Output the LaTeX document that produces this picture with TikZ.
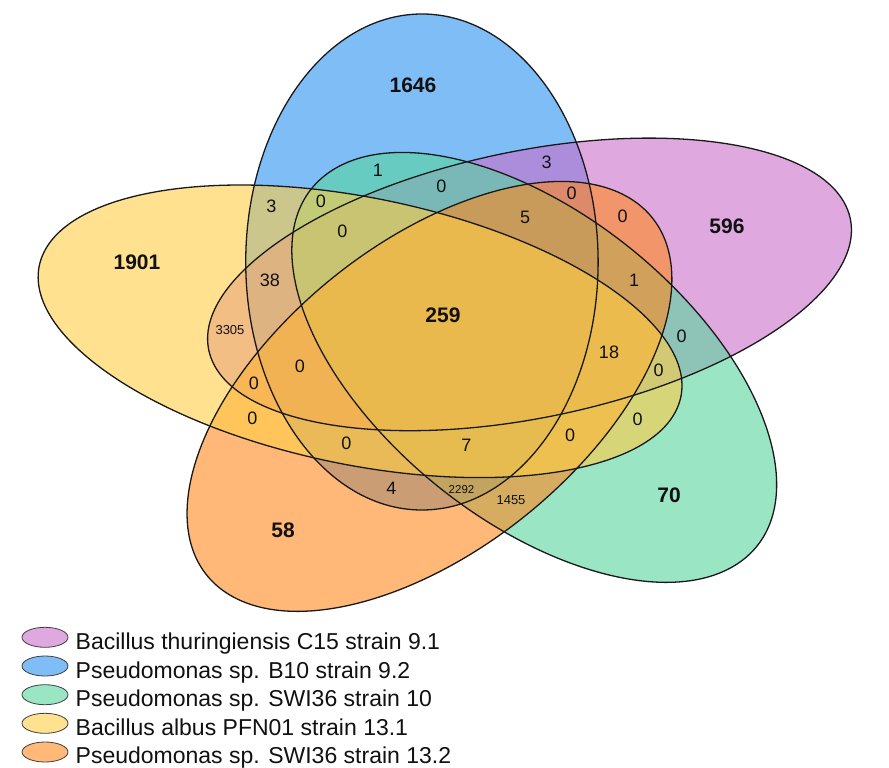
\documentclass[tikz,border=0pt]{standalone}
\usepackage{fontspec}
\setmainfont{Liberation Sans}
\usetikzlibrary{shapes.geometric}
\definecolor{cPink}{RGB}{203,110,203}
\definecolor{cBlue}{RGB}{43,145,243}
\definecolor{cGreen}{RGB}{88,213,157}
\definecolor{cYellow}{RGB}{255,205,70}
\definecolor{cOrange}{RGB}{255,137,30}
\definecolor{txt}{RGB}{17,17,17}
\tikzset{
  venn/.style={fill opacity=0.6},
  vline/.style={draw=black!90, line width=1.3pt},
  big/.style={inner sep=0, text=txt, font=\fontsize{21}{22}\selectfont\bfseries},
  mid/.style={inner sep=0, text=txt, font=\fontsize{18}{18}\selectfont},
  small/.style={inner sep=0, text=txt, font=\fontsize{13}{13}\selectfont},
  tiny/.style={inner sep=0, text=txt, font=\fontsize{11.5}{12}\selectfont},
  legmark/.style={ellipse, draw=black!75, line width=0.8pt, fill opacity=0.6, minimum width=46pt, minimum height=20pt, inner sep=0},
  legtext/.style={anchor=base west, inner sep=0, text=txt, font=\fontsize{23}{23}\selectfont},
}
\begin{document}
\begin{tikzpicture}[x=1pt,y=-1pt]
\fill[white] (0,0) rectangle (889,768);
\useasboundingbox (0,0) rectangle (889,768);
\begin{scope}[xscale=1.345]
  % fills
  \fill[cBlue, venn] (313.7,262.0) ellipse (131 and 248);
  \fill[cPink, venn, rotate around={18:(393.7,284.4)}] (393.7,284.4) ellipse (248 and 131);
  \fill[cGreen, venn, rotate around={-54:(397.2,367.4)}] (397.2,367.4) ellipse (248 and 131);
  \fill[cOrange, venn, rotate around={54:(319.3,396.4)}] (319.3,396.4) ellipse (248 and 131);
  \fill[cYellow, venn, rotate around={162:(267.7,331.3)}] (267.7,331.3) ellipse (248 and 131);
  % outlines
  \draw[vline] (313.7,262.0) ellipse (131 and 248);
  \draw[vline, rotate around={18:(393.7,284.4)}] (393.7,284.4) ellipse (248 and 131);
  \draw[vline, rotate around={-54:(397.2,367.4)}] (397.2,367.4) ellipse (248 and 131);
  \draw[vline, rotate around={54:(319.3,396.4)}] (319.3,396.4) ellipse (248 and 131);
  \draw[vline, rotate around={162:(267.7,331.3)}] (267.7,331.3) ellipse (248 and 131);
\end{scope}
% single-set counts
\node[big] (nB) at (413,85) {1646};
\node[big] (nP) at (727,226) {596};
\node[big] (nY) at (137,262) {1901};
\node[big] (nG) at (669,495) {70};
\node[big] (nO) at (283,530) {58};
\node[big] (nAll) at (443,315) {259};
% intersections
\node[mid] (a1) at (378,170) {1};
\node[mid] (a2) at (546.5,162) {3};
\node[mid] (a3) at (441.5,186.5) {0};
\node[mid] (a4) at (571.5,193) {0};
\node[mid] (a5) at (622.5,216.5) {0};
\node[mid] (a6) at (271.5,206.5) {3};
\node[mid] (a7) at (321,201.5) {0};
\node[mid] (a8) at (342.5,231.5) {0};
\node[mid] (a9) at (525,217.5) {5};
\node[mid] (a10) at (270,280) {38};
\node[mid] (a11) at (634,280) {1};
\node[mid] (a12) at (681.5,336) {0};
\node[mid] (a13) at (609,352) {18};
\node[mid] (a14) at (658.5,370) {0};
\node[mid] (a15) at (300,366) {0};
\node[mid] (a16) at (254,383) {0};
\node[mid] (a17) at (252.5,418) {0};
\node[mid] (a18) at (637.5,419.5) {0};
\node[mid] (a19) at (346.5,443) {0};
\node[mid] (a20) at (466.5,445) {7};
\node[mid] (a21) at (570,435) {0};
\node[mid] (a22) at (391.5,488) {4};
\node[small] (a23) at (230,330) {3305};
\node[tiny] (a24) at (461.5,490) {2292};
\node[small] (a25) at (511,500) {1455};
% legend
\node[legmark, fill=cPink] (m1) at (45,637.3) {};
\node[legmark, fill=cBlue] (m2) at (45,666) {};
\node[legmark, fill=cGreen] (m3) at (45,694.7) {};
\node[legmark, fill=cYellow] (m4) at (45,723.3) {};
\node[legmark, fill=cOrange] (m5) at (45,752) {};
\node[legtext] (t1) at (75.5,649.3) {Bacillus thuringiensis C15 strain 9.1};
\node[legtext] (t2) at (75.5,678) {Pseudomonas sp. B10 strain 9.2};
\node[legtext] (t3) at (75.5,706.7) {Pseudomonas sp. SWI36 strain 10};
\node[legtext] (t4) at (75.5,735.3) {Bacillus albus PFN01 strain 13.1};
\node[legtext] (t5) at (75.5,763.5) {Pseudomonas sp. SWI36 strain 13.2};
\end{tikzpicture}
\end{document}
